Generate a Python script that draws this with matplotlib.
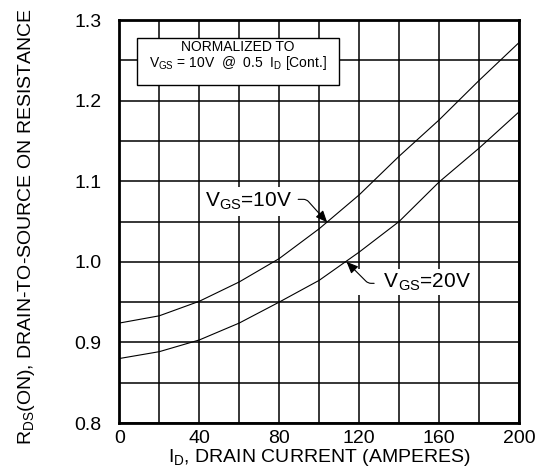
import matplotlib
matplotlib.use("Agg")
import matplotlib.pyplot as plt
from matplotlib.patches import Rectangle

plt.rcParams['font.family'] = ['Liberation Sans', 'DejaVu Sans']
plt.rcParams['mathtext.fontset'] = 'custom'
plt.rcParams['mathtext.rm'] = 'Liberation Sans'
plt.rcParams['mathtext.it'] = 'Liberation Sans'
plt.rcParams['mathtext.bf'] = 'Liberation Sans:bold'

# Data
drain_current = [0, 20, 40, 60, 80, 100, 120, 140, 160, 180, 200]
rds_vgs10 = [0.924, 0.933, 0.951, 0.975, 1.004, 1.041, 1.083, 1.131, 1.176, 1.225, 1.272]
rds_vgs20 = [0.880, 0.8885, 0.903, 0.924, 0.950, 0.977, 1.012, 1.050, 1.099, 1.141, 1.186]

x_ticks = list(range(0, 201, 20))
x_labels = ['0', '', '40', '', '80', '', '120', '', '160', '', '200']
y_ticks = [0.80, 0.85, 0.90, 0.95, 1.00, 1.05, 1.10, 1.15, 1.20, 1.25, 1.30]
y_labels = ['0.8', '', '0.9', '', '1.0', '', '1.1', '', '1.2', '', '1.3']

fig = plt.figure(figsize=(5.49, 4.73), dpi=100)
ax = fig.add_axes([0.2173, 0.1057, 0.7281, 0.852])

ax.plot(drain_current, rds_vgs10, color='black', lw=0.8, zorder=4)
ax.plot(drain_current, rds_vgs20, color='black', lw=0.8, zorder=4)

ax.set_xlim(0, 200)
ax.set_ylim(0.8, 1.3)
ax.set_xticks(x_ticks)
ax.set_xticklabels(x_labels)
ax.set_yticks(y_ticks)
ax.set_yticklabels(y_labels)
ax.tick_params(axis='both', length=0, labelsize=14)
ax.tick_params(axis='y', pad=13)
ax.tick_params(axis='x', pad=5)
ax.grid(True, color='black', lw=1.1)
ax.set_axisbelow(True)
for s in ax.spines.values():
    s.set_linewidth(2.0)
    s.set_zorder(6)

ax.set_xlabel(r'$\mathregular{I_D}$, DRAIN CURRENT (AMPERES)', fontsize=14, labelpad=0)
ax.set_ylabel(r'$\mathregular{R_{DS}}$(ON), DRAIN-TO-SOURCE ON RESISTANCE', fontsize=14, labelpad=8)
ax.yaxis.set_label_coords(-0.205, 0.488)

# Normalization box
ax.add_patch(Rectangle((8.7, 1.219), 101.2, 0.059, facecolor='white',
                       edgecolor='black', lw=1.0, zorder=5))
ax.text(59.3, 1.2619, 'NORMALIZED TO', ha='center', va='baseline', fontsize=10, zorder=6)
ax.text(59.3, 1.2413, r'$\mathregular{V_{GS}}$ = 10V  @  0.5  $\mathregular{I_D}$ [Cont.]',
        ha='center', va='baseline', fontsize=10, zorder=6)

# Curve labels
ax.text(86.4, 1.0684, r'$\mathregular{V_{GS}}$=10V', ha='right', va='baseline', fontsize=15,
        zorder=3, bbox=dict(facecolor='white', edgecolor='none', pad=3))
ax.annotate('', xy=(104.0, 1.049), xytext=(89.5, 1.0775),
            arrowprops=dict(arrowstyle='-|>,head_length=0.7,head_width=0.3', color='black', lw=0.8,
                            shrinkA=0, shrinkB=0,
                            connectionstyle='angle,angleA=0,angleB=-48,rad=3'), zorder=5)

ax.text(176.2, 0.9684, r'     $\mathregular{V_{GS}}$=20V', ha='right', va='baseline', fontsize=15,
        zorder=3, bbox=dict(facecolor='white', edgecolor='none', pad=2))
ax.annotate('', xy=(113.7, 1.000), xytext=(127.5, 0.9733),
            arrowprops=dict(arrowstyle='-|>,head_length=0.7,head_width=0.3', color='black', lw=0.8,
                            shrinkA=0, shrinkB=0,
                            connectionstyle='angle,angleA=0,angleB=135,rad=3'), zorder=5)

fig.savefig('out.png', dpi=100)
